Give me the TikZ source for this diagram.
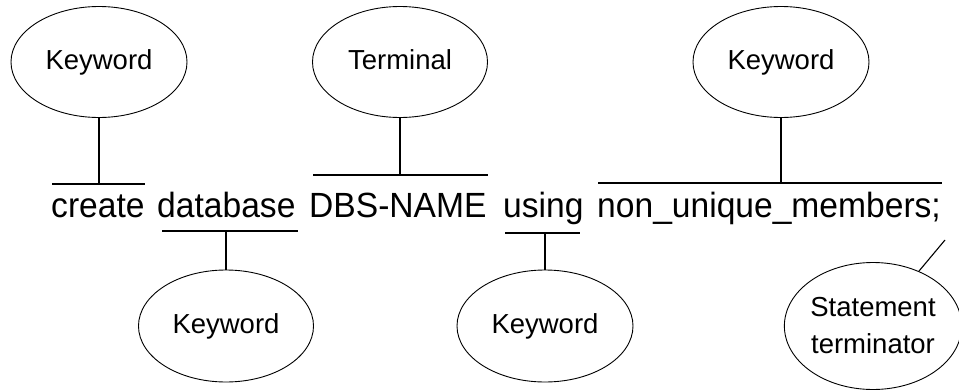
\documentclass[tikz,border=0pt]{standalone}
\usepackage{fontspec}
\setmainfont{Liberation Sans}
\usetikzlibrary{shapes.geometric}
\begin{document}
\begin{tikzpicture}[x=1pt,y=1pt,
  bubble/.style={draw, ellipse, line width=0.9pt, inner sep=0pt,
    font=\fontsize{27.5}{37}\selectfont, align=center},
  word/.style={inner sep=0pt, anchor=base west, font=\fontsize{35}{40}\selectfont},
  uline/.style={line width=1.1pt},
  link/.style={line width=1.1pt}]
\useasboundingbox (0,0) rectangle (959,-391);
% ellipses
\node[bubble, minimum width=176pt, minimum height=111pt] (k1) at (99,-62) {Keyword};
\node[bubble, minimum width=175pt, minimum height=111pt] (t1) at (400,-62) {Terminal\vphantom{y}};
\node[bubble, minimum width=176pt, minimum height=111pt] (k3) at (781,-62) {Keyword};
\node[bubble, minimum width=175pt, minimum height=112pt] (k2) at (226,-326) {Keyword};
\node[bubble, minimum width=176pt, minimum height=112pt] (k4) at (545,-326) {Keyword};
\node[bubble, minimum width=170pt, minimum height=127pt] (st) at (873,-326) {Statement\\terminator};
% words
\node[word] (w1) at (51,-217) {\scalebox{0.96}[1]{create}};
\node[word] (w2) at (157,-217) {\scalebox{0.96}[1]{database}};
\node[word] (w3) at (309,-217) {\scalebox{0.96}[1]{DBS-NAME}};
\node[word] (w4) at (503,-217) {\scalebox{0.96}[1]{using}};
\node[word] (w5) at (597,-217) {\scalebox{0.96}[1]{non\_unique\_members;}};
% underline / overline coordinates
\coordinate (u1a) at (52,-184);  \coordinate (u1b) at (145,-184); \coordinate (u1m) at (99,-184);
\coordinate (u2a) at (162,-231); \coordinate (u2b) at (298,-231); \coordinate (u2m) at (226,-231);
\coordinate (u3a) at (313,-175); \coordinate (u3b) at (488,-175); \coordinate (u3m) at (400,-175);
\coordinate (u4a) at (505,-233); \coordinate (u4b) at (580,-233); \coordinate (u4m) at (545,-233);
\coordinate (u5a) at (598,-183); \coordinate (u5b) at (942,-183); \coordinate (u5m) at (781,-183);
\coordinate (semi) at (945,-240);
\foreach \i in {1,...,5} {\draw[uline] (u\i a) -- (u\i b);}
% connectors
\draw[link] (k1) -- (u1m);
\draw[link] (k2) -- (u2m);
\draw[link] (t1) -- (u3m);
\draw[link] (k4) -- (u4m);
\draw[link] (k3) -- (u5m);
\draw[link] (st) -- (semi);
\end{tikzpicture}
\end{document}
